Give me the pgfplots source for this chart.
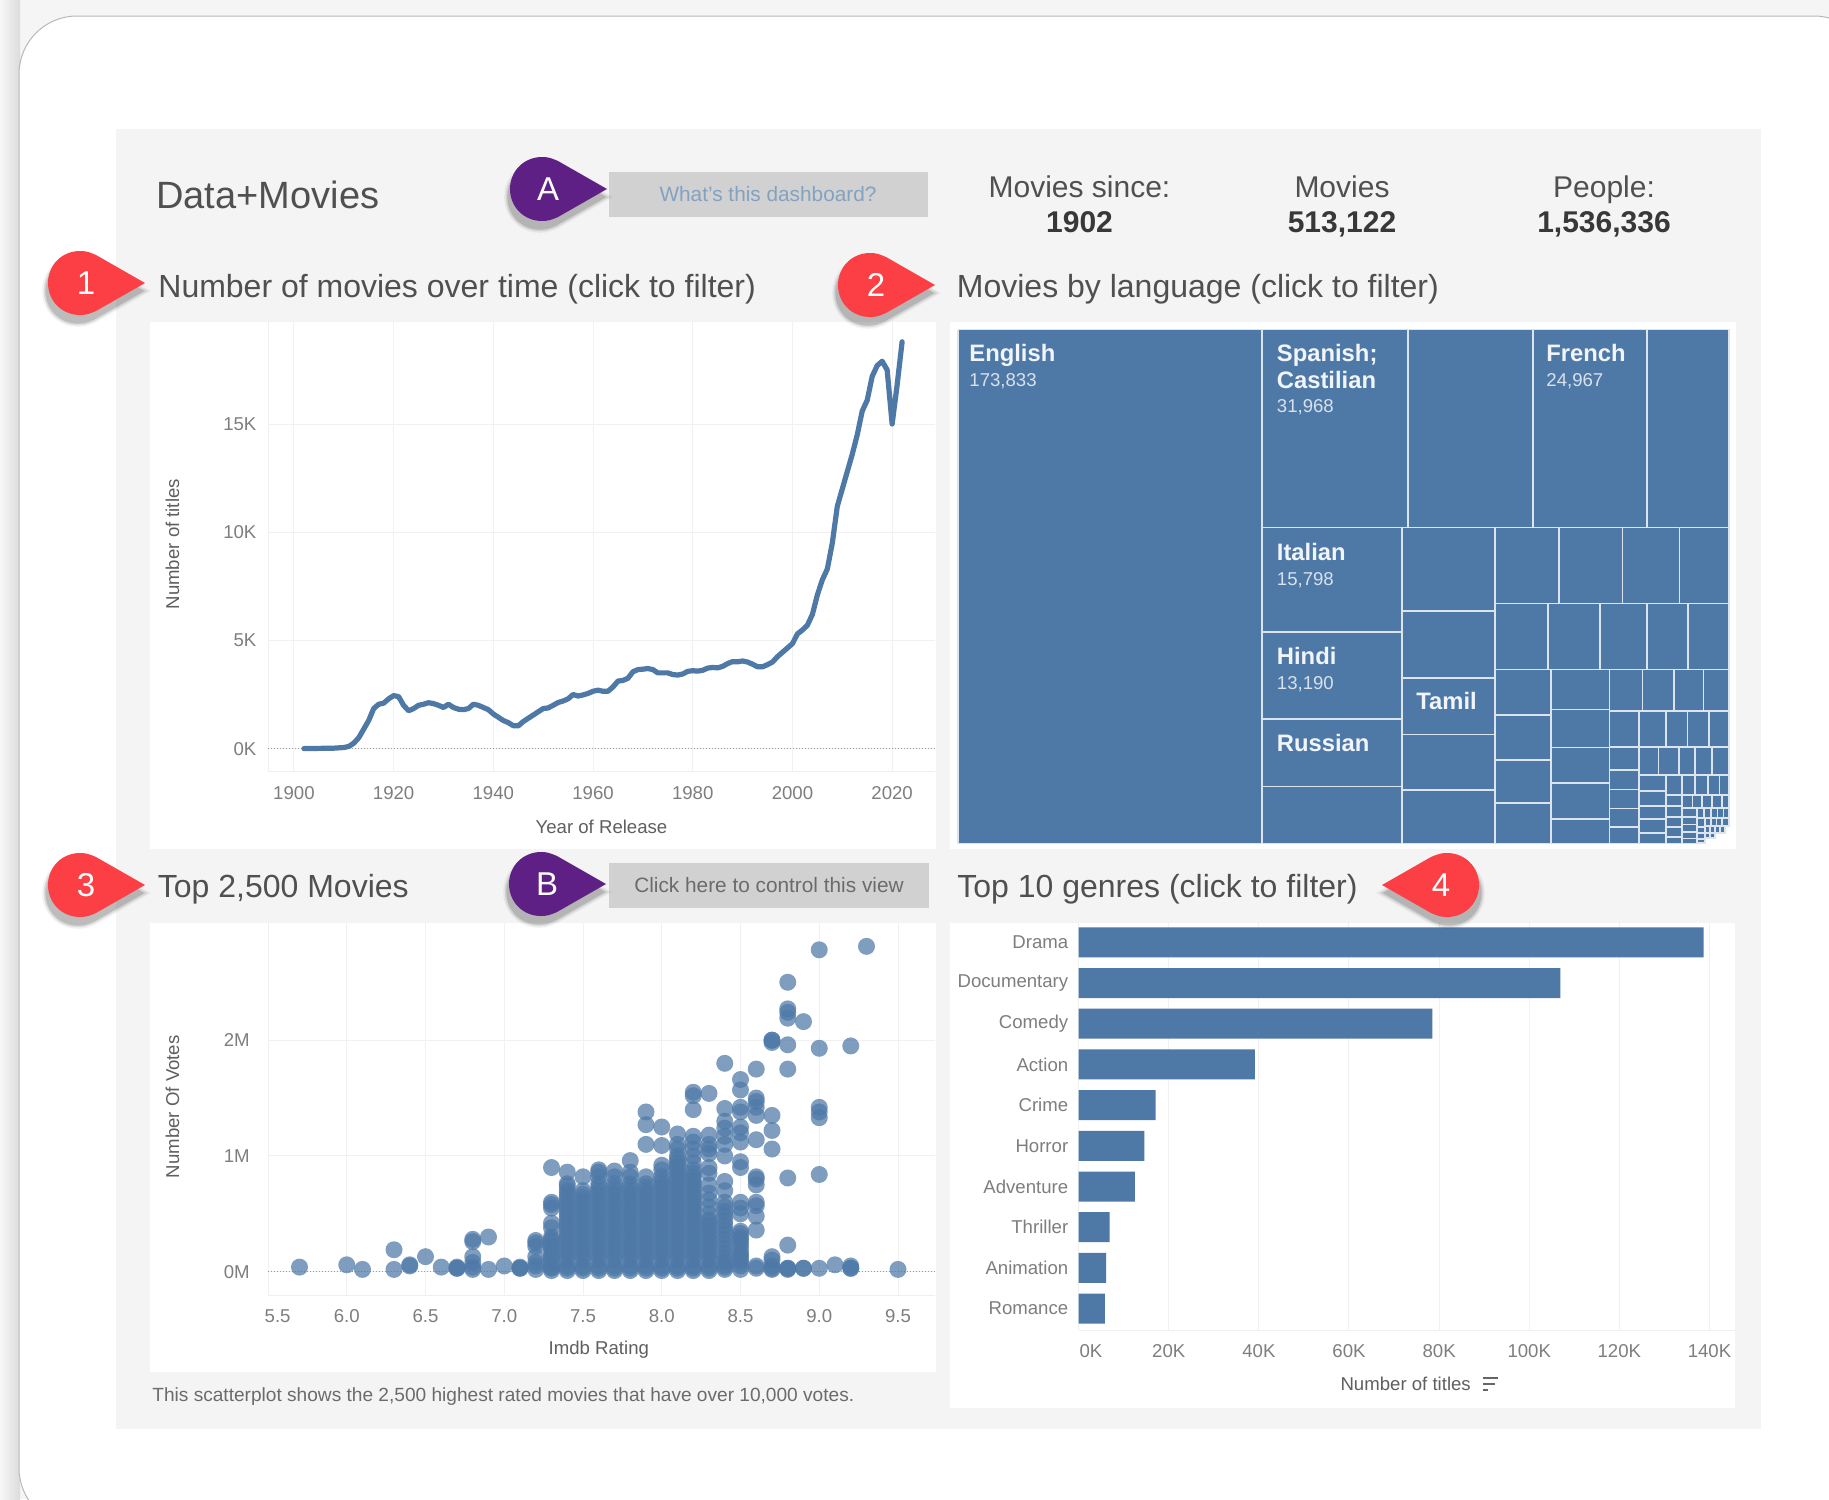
\documentclass[border=0pt]{standalone}
\usepackage{pgfplots}
\pgfplotsset{compat=1.18}
\usepackage{fontspec}
\setmainfont{Liberation Sans}
\definecolor{tblue}{HTML}{4E79A7}
\definecolor{gridc}{HTML}{F1F1F1}
\definecolor{axisc}{HTML}{F0F0F0}
\definecolor{tickc}{HTML}{7E7E7E}
\definecolor{labc}{HTML}{5F5F5F}
\definecolor{headc}{HTML}{505050}
\definecolor{panelc}{HTML}{F4F4F4}
\definecolor{redc}{HTML}{FB3F44}
\definecolor{purpc}{HTML}{5F2085}
\newcommand\fs[1]{\fontsize{#1}{#1}\selectfont}
\newcommand\tm[4]{\addplot[fill=tblue,draw=white!80!tblue,line width=0.8pt,forget plot] coordinates {(#1,#2)(#3,#2)(#3,#4)(#1,#4)(#1,#2)};}
% teardrop around the origin, in px
\newcommand\drop{(65,0) -- (16,-28) .. controls (9,-31) and (6,-32) .. (0,-32) .. controls (-18,-32) and (-32,-18) .. (-32,0) .. controls (-32,18) and (-18,32) .. (0,32) .. controls (6,32) and (9,31) .. (16,28) -- cycle}
\newcommand\callout[5]{% cx cy xscale colour text
  \begin{scope}[shift={(#1,#2)},xscale=#3]
    \begin{scope}[shift={(-2,8)},scale=1.12]\fill[black,opacity=.05] \drop;\end{scope}
    \begin{scope}[shift={(-2,8)},scale=1.07]\fill[black,opacity=.09] \drop;\end{scope}
    \begin{scope}[shift={(-2,8)},scale=1.02]\fill[black,opacity=.14] \drop;\end{scope}
    \fill[#4] \drop;
  \end{scope}
  \node[text=white,inner sep=0,font=\fs{16.5}] at (#1+#3*6,#2) {#5};}
\pgfplotsset{
  dash/.style={scale only axis,anchor=north west,clip=true,
    axis lines*=left,axis line style={draw=axisc,line width=.5pt,-},
    scaled x ticks=false,scaled y ticks=false,
    major tick length=0pt,minor tick length=0pt,
    tick label style={font=\fs{9.3},text=tickc,inner sep=0pt},
    xticklabel style={anchor=center},
    yticklabel style={anchor=east},
    label style={font=\fs{9.3},text=labc,inner sep=0pt},
    grid=major,grid style={draw=gridc,line width=.5pt},
  }
}
\pgfplotstableread{
year n
1902 0
1905 10
1908 20
1910 50
1911 100
1912 250
1913 500
1914 900
1915 1300
1916 1850
1917 2050
1918 2100
1919 2300
1920 2450
1921 2400
1922 2000
1923 1750
1924 1850
1925 2000
1926 2050
1927 2120
1928 2080
1929 2000
1930 1900
1931 2050
1932 1900
1933 1820
1934 1800
1935 1850
1936 2050
1937 2000
1938 1900
1939 1800
1940 1600
1941 1450
1942 1300
1943 1200
1944 1060
1945 1050
1946 1250
1947 1400
1948 1550
1949 1700
1950 1850
1951 1880
1952 2000
1953 2130
1954 2200
1955 2300
1956 2500
1957 2430
1958 2480
1959 2550
1960 2650
1961 2700
1962 2650
1963 2650
1964 2850
1965 3120
1966 3150
1967 3250
1968 3550
1969 3650
1970 3670
1971 3700
1972 3650
1973 3500
1974 3500
1975 3500
1976 3420
1977 3400
1978 3450
1979 3570
1980 3600
1981 3580
1982 3620
1983 3720
1984 3750
1985 3730
1986 3800
1987 3930
1988 4020
1989 4010
1990 4050
1991 4000
1992 3900
1993 3780
1994 3780
1995 3880
1996 4000
1997 4250
1998 4450
1999 4650
2000 4850
2001 5300
2002 5480
2003 5700
2004 6200
2005 7100
2006 7800
2007 8300
2008 9500
2009 11200
2010 12000
2011 12800
2012 13600
2013 14500
2014 15600
2015 16100
2016 17200
2017 17700
2018 17900
2019 17500
2020 15000
2021 16800
2022 18800
}\yeartable
\begin{document}
\begin{tikzpicture}
\useasboundingbox (0pt,0pt) rectangle (914.5pt,-749.5pt);
\clip (0pt,0pt) rectangle (914.5pt,-749.5pt);
\begin{scope}[x=.5pt,y=-.5pt]
  \fill[white!96!black] (0,0) rectangle (1829,1499);
  \shade[left color=white!97!black,right color=white!86!black] (0,0) rectangle (20,1499);
  \filldraw[fill=white,draw=white!72!black,line width=.5pt,rounded corners=29pt] (19,16) rectangle (1872,1526);
  \fill[panelc] (116,128.5) rectangle (1761,1429);
  \fill[white] (150,322) rectangle (936,849);
  \fill[white] (950,322) rectangle (1736,849);
  \fill[white] (150,923.3) rectangle (936,1371.7);
  \fill[white] (950,923.3) rectangle (1735,1408.3);
  \fill[white!82!black] (609,171.5) rectangle (928,217);
  \fill[white!82!black] (609,863) rectangle (928.5,907.5);
\end{scope}

% 1 line chart
\begin{axis}[dash,at={(134pt,-161.15pt)},width=333.5pt,height=224.55pt,
  xmin=1894.8,xmax=2028.6,ymin=-1054,ymax=19700,
  xtick={1900,1920,1940,1960,1980,2000,2020},
  xticklabels={1900,1920,1940,1960,1980,2000,2020},
  ytick={0,5000,10000,15000},yticklabels={0K,5K,10K,15K},
  xticklabel style={yshift=-10.8pt},
  yticklabel style={xshift=-5.6pt},
  xlabel={Year of Release},ylabel={Number of titles},
  x label style={at={(rel axis cs:0.5,0)},anchor=center,yshift=-27.5pt},
  y label style={at={(rel axis cs:0,0.506)},anchor=center,rotate=0,yshift=47.8pt},
]
\addplot[draw=black!40,densely dotted,line width=.5pt,forget plot] coordinates {(1894.8,0)(2028.6,0)};
\addplot[draw=tblue,line width=2.6pt,line join=round,line cap=round] table[x=year,y=n] {\yeartable};
\end{axis}

% 2 treemap
\begin{axis}[scale only axis,anchor=north west,at={(475pt,-161.5pt)},width=393pt,height=263pt,
  xmin=950,xmax=1736,ymin=323,ymax=849,y dir=reverse,hide axis,clip=false]
\tm{958}{329.5}{1262}{843.3}
\tm{1262}{329.5}{1407.7}{527.6}\tm{1407.7}{329.5}{1532.7}{527.6}\tm{1532.7}{329.5}{1647}{527.6}\tm{1647}{329.5}{1729}{527.6}
\tm{1262}{527.6}{1402}{631.7}\tm{1262}{631.7}{1402}{718.9}\tm{1262}{718.9}{1402}{786.5}\tm{1262}{786.5}{1402}{843.3}
\tm{1402}{527.6}{1495}{610.7}\tm{1402}{610.7}{1495}{677.7}\tm{1402}{677.7}{1495}{734.5}\tm{1402}{734.5}{1495}{790}\tm{1402}{790}{1495}{843.3}
\tm{1495}{527.6}{1559.2}{603.3}\tm{1559.2}{527.6}{1622.4}{603.3}\tm{1622.4}{527.6}{1679.6}{603.3}\tm{1679.6}{527.6}{1729}{603.3}
\tm{1495}{603.3}{1548}{669.3}\tm{1548}{603.3}{1600}{669.3}\tm{1600}{603.3}{1647}{669.3}\tm{1647}{603.3}{1687.8}{669.3}\tm{1687.8}{603.3}{1729}{669.3}
\tm{1495}{669.3}{1551}{715}\tm{1495}{715}{1551}{760}\tm{1495}{760}{1551}{802.7}\tm{1495}{802.7}{1551}{843.3}
\tm{1551}{669.3}{1609.5}{709.3}\tm{1551}{709.3}{1609.5}{747.3}\tm{1551}{747.3}{1609.5}{782.7}\tm{1551}{782.7}{1609.5}{819}\tm{1551}{819}{1609.5}{843.3}
\tm{1609.5}{669.3}{1642.3}{710.7}\tm{1642.3}{669.3}{1674}{710.7}\tm{1674}{669.3}{1703.3}{710.7}\tm{1703.3}{669.3}{1729}{710.7}
\tm{1609.5}{710.7}{1639}{746.7}\tm{1639}{710.7}{1666}{746.7}\tm{1666}{710.7}{1687.3}{746.7}\tm{1687.3}{710.7}{1709}{746.7}\tm{1709}{710.7}{1729}{746.7}
\tm{1609.5}{746.7}{1639}{770}\tm{1609.5}{770}{1639}{789.3}\tm{1609.5}{789.3}{1639}{808.3}\tm{1609.5}{808.3}{1639}{826.7}\tm{1609.5}{826.7}{1639}{843.3}
\tm{1639}{746.7}{1658.3}{775}\tm{1658.3}{746.7}{1679}{775}\tm{1679}{746.7}{1695}{775}\tm{1695}{746.7}{1711.7}{775}\tm{1711.7}{746.7}{1729}{775}
\tm{1639}{775}{1666}{791}\tm{1639}{791}{1666}{805.7}\tm{1639}{805.7}{1666}{819}\tm{1639}{819}{1666}{833}\tm{1639}{833}{1666}{843.3}
\tm{1666}{775}{1681.7}{795}\tm{1681.7}{775}{1695}{795}\tm{1695}{775}{1707.7}{795}\tm{1707.7}{775}{1719.3}{795}\tm{1719.3}{775}{1729}{795}
\tm{1666}{795}{1682}{805.7}\tm{1666}{805.7}{1682}{816.7}\tm{1666}{816.7}{1682}{826.7}\tm{1666}{826.7}{1682}{836.7}\tm{1666}{836.7}{1682}{843.3}
\tm{1682}{795}{1692.3}{808}\tm{1692.3}{795}{1702}{808}\tm{1702}{795}{1711.7}{808}\tm{1711.7}{795}{1721.7}{808}\tm{1721.7}{795}{1729}{808}
\tm{1682}{808}{1697}{816.7}\tm{1682}{816.7}{1697}{824.3}\tm{1682}{824.3}{1697}{831.7}\tm{1682}{831.7}{1697}{838.3}\tm{1682}{838.3}{1697}{843.3}
\tm{1697}{808}{1704}{818}\tm{1704}{808}{1711}{818}\tm{1711}{808}{1717.3}{818}\tm{1717.3}{808}{1723.3}{818}\tm{1723.3}{808}{1729}{818}
\tm{1697}{818}{1705}{826.7}\tm{1697}{826.7}{1705}{833}\tm{1697}{833}{1705}{839}\tm{1697}{839}{1705}{843}
\tm{1705}{818}{1711}{826}\tm{1711}{818}{1716.5}{826}\tm{1716.5}{818}{1722}{826}\tm{1722}{818}{1729}{826}
\tm{1705}{826}{1710}{833}\tm{1710}{826}{1715}{833}\tm{1715}{826}{1720}{833}\tm{1720}{826}{1725}{833}
\tm{1705}{833}{1710}{838}\tm{1710}{833}{1715}{838}
\end{axis}

% 3 scatter
\begin{axis}[dash,at={(134pt,-461.65pt)},width=333.5pt,height=185.85pt,
  xmin=5.5,xmax=9.735,ymin=-0.201,ymax=3.009,
  xtick={5.5,6,6.5,7,7.5,8,8.5,9,9.5},
  xticklabels={\hspace*{9.6pt}5.5,6.0,6.5,7.0,7.5,8.0,8.5,9.0,9.5},
  ytick={0,1,2},yticklabels={0M,1M,2M},
  xticklabel style={yshift=-10.35pt},
  yticklabel style={xshift=-9pt},
  xlabel={Imdb Rating},ylabel={Number Of Votes},
  x label style={at={(rel axis cs:0.496,0)},anchor=center,yshift=-27.15pt},
  y label style={at={(rel axis cs:0,0.5066)},anchor=center,rotate=0,yshift=47.8pt},
]
\addplot[draw=black!40,densely dotted,line width=.5pt,forget plot] coordinates {(5.5,0)(9.735,0)};
\addplot[only marks,mark=*,mark size=4.25pt,mark options={draw=tblue,draw opacity=0,line width=0pt,fill=tblue,fill opacity=.72}] coordinates {
(5.7,.04)(6,.06)(6.1,.02)(6.3,.02)(6.3,.19)(6.4,.05)(6.4,.06)(6.5,.13)(6.6,.04)(6.7,.03)(6.7,.03)(6.7,.04)
(6.8,.02)(6.8,.04)(6.8,.08)(6.8,.13)(6.8,.26)(6.8,.28)(6.9,.02)(6.9,.3)(7,.05)(7.1,.03)(7.1,.03)(7.1,.04)
(7.2,.02)(7.2,.05)(7.2,.08)(7.2,.13)(7.2,.22)(7.2,.25)(7.2,.27)
(7.3,.01)(7.3,.04)(7.3,.07)(7.3,.1)(7.3,.14)(7.3,.18)(7.3,.22)(7.3,.26)(7.3,.3)(7.3,.38)(7.3,.42)(7.3,.55)(7.3,.58)(7.3,.6)(7.3,.9)
(7.4,.01)(7.4,.05)(7.4,.1)(7.4,.16)(7.4,.22)(7.4,.28)(7.4,.34)(7.4,.4)(7.4,.46)(7.4,.52)(7.4,.58)(7.4,.64)(7.4,.7)(7.4,.74)(7.4,.76)(7.4,.86)
(7.5,.01)(7.5,.05)(7.5,.1)(7.5,.16)(7.5,.22)(7.5,.28)(7.5,.34)(7.5,.4)(7.5,.46)(7.5,.52)(7.5,.58)(7.5,.64)(7.5,.7)(7.5,.82)
(7.6,.01)(7.6,.05)(7.6,.1)(7.6,.16)(7.6,.22)(7.6,.28)(7.6,.34)(7.6,.4)(7.6,.46)(7.6,.52)(7.6,.58)(7.6,.64)(7.6,.7)(7.6,.76)(7.6,.82)(7.6,.86)(7.6,.88)
(7.7,.01)(7.7,.05)(7.7,.1)(7.7,.16)(7.7,.22)(7.7,.28)(7.7,.34)(7.7,.4)(7.7,.46)(7.7,.52)(7.7,.58)(7.7,.64)(7.7,.7)(7.7,.76)(7.7,.82)(7.7,.87)
(7.8,.01)(7.8,.05)(7.8,.1)(7.8,.16)(7.8,.22)(7.8,.28)(7.8,.34)(7.8,.4)(7.8,.46)(7.8,.52)(7.8,.58)(7.8,.64)(7.8,.7)(7.8,.76)(7.8,.82)(7.8,.86)(7.8,.96)
(7.9,.01)(7.9,.05)(7.9,.1)(7.9,.16)(7.9,.22)(7.9,.28)(7.9,.34)(7.9,.4)(7.9,.46)(7.9,.52)(7.9,.58)(7.9,.64)(7.9,.7)(7.9,.76)(7.9,.82)(7.9,1.1)(7.9,1.27)(7.9,1.38)
(8,.01)(8,.05)(8,.1)(8,.16)(8,.22)(8,.28)(8,.34)(8,.4)(8,.46)(8,.52)(8,.58)(8,.64)(8,.7)(8,.76)(8,.82)(8,.88)(8,.92)(8,1.09)(8,1.25)
(8.1,.01)(8.1,.05)(8.1,.1)(8.1,.16)(8.1,.22)(8.1,.28)(8.1,.34)(8.1,.4)(8.1,.46)(8.1,.52)(8.1,.58)(8.1,.64)(8.1,.7)(8.1,.76)(8.1,.82)(8.1,.88)(8.1,.94)(8.1,1)(8.1,1.06)(8.1,1.1)(8.1,1.19)
(8.2,.01)(8.2,.05)(8.2,.1)(8.2,.16)(8.2,.22)(8.2,.28)(8.2,.34)(8.2,.4)(8.2,.46)(8.2,.52)(8.2,.58)(8.2,.64)(8.2,.7)(8.2,.76)(8.2,.82)(8.2,.88)(8.2,.94)(8.2,1)(8.2,1.06)(8.2,1.12)(8.2,1.17)(8.2,1.4)(8.2,1.52)(8.2,1.55)
(8.3,.01)(8.3,.05)(8.3,.1)(8.3,.16)(8.3,.22)(8.3,.28)(8.3,.34)(8.3,.4)(8.3,.45)(8.3,.5)(8.3,.56)(8.3,.62)(8.3,.68)(8.3,.75)(8.3,.85)(8.3,.9)(8.3,1.02)(8.3,1.06)(8.3,1.1)(8.3,1.18)(8.3,1.54)
(8.4,.02)(8.4,.06)(8.4,.12)(8.4,.2)(8.4,.28)(8.4,.36)(8.4,.44)(8.4,.52)(8.4,.6)(8.4,.7)(8.4,.78)(8.4,1)(8.4,1.1)(8.4,1.17)(8.4,1.24)(8.4,1.3)(8.4,1.41)(8.4,1.8)
(8.5,.02)(8.5,.05)(8.5,.1)(8.5,.15)(8.5,.25)(8.5,.3)(8.5,.35)(8.5,.5)(8.5,.55)(8.5,.6)(8.5,.9)(8.5,.95)(8.5,1.12)(8.5,1.2)(8.5,1.25)(8.5,1.38)(8.5,1.42)(8.5,1.57)(8.5,1.66)
(8.6,.03)(8.6,.05)(8.6,.36)(8.6,.48)(8.6,.57)(8.6,.6)(8.6,.75)(8.6,.8)(8.6,.82)(8.6,1.14)(8.6,1.35)(8.6,1.42)(8.6,1.47)(8.6,1.5)(8.6,1.75)
(8.7,.02)(8.7,.03)(8.7,.05)(8.7,.1)(8.7,.13)(8.7,1.06)(8.7,1.22)(8.7,1.35)(8.7,1.98)(8.7,2)(8.7,2)
(8.8,.02)(8.8,.03)(8.8,.03)(8.8,.23)(8.8,.81)(8.8,1.75)(8.8,1.96)(8.8,2.19)(8.8,2.24)(8.8,2.27)(8.8,2.5)
(8.9,.03)(8.9,.03)(8.9,2.16)(9,.03)(9,.84)(9,1.33)(9,1.38)(9,1.42)(9,1.93)(9,2.78)(9.1,.06)
(9.2,.03)(9.2,.03)(9.2,.05)(9.2,1.95)(9.3,2.81)(9.5,.02)
(7.3,.03)(7.3,.12)(7.3,.2)(7.3,.28)
(7.4,.03)(7.4,.13)(7.4,.19)(7.4,.25)(7.4,.31)(7.4,.37)(7.4,.43)(7.4,.49)(7.4,.55)(7.4,.61)(7.4,.67)
(7.5,.03)(7.5,.13)(7.5,.19)(7.5,.25)(7.5,.31)(7.5,.37)(7.5,.43)(7.5,.49)(7.5,.55)(7.5,.61)(7.5,.67)
(7.6,.03)(7.6,.13)(7.6,.19)(7.6,.25)(7.6,.31)(7.6,.37)(7.6,.43)(7.6,.49)(7.6,.55)(7.6,.61)(7.6,.67)(7.6,.73)
(7.7,.03)(7.7,.13)(7.7,.19)(7.7,.25)(7.7,.31)(7.7,.37)(7.7,.43)(7.7,.49)(7.7,.55)(7.7,.61)(7.7,.67)(7.7,.73)
(7.8,.03)(7.8,.13)(7.8,.19)(7.8,.25)(7.8,.31)(7.8,.37)(7.8,.43)(7.8,.49)(7.8,.55)(7.8,.61)(7.8,.67)(7.8,.73)
(7.9,.03)(7.9,.13)(7.9,.19)(7.9,.25)(7.9,.31)(7.9,.37)(7.9,.43)(7.9,.49)(7.9,.55)(7.9,.61)(7.9,.67)(7.9,.73)
(8,.03)(8,.13)(8,.19)(8,.25)(8,.31)(8,.37)(8,.43)(8,.49)(8,.55)(8,.61)(8,.67)(8,.73)(8,.79)
(8.1,.03)(8.1,.13)(8.1,.19)(8.1,.25)(8.1,.31)(8.1,.37)(8.1,.43)(8.1,.49)(8.1,.55)(8.1,.61)(8.1,.67)(8.1,.73)(8.1,.79)(8.1,.85)(8.1,.91)(8.1,.97)
(8.2,.03)(8.2,.13)(8.2,.19)(8.2,.25)(8.2,.31)(8.2,.37)(8.2,.43)(8.2,.49)(8.2,.55)(8.2,.61)(8.2,.67)(8.2,.73)(8.2,.79)(8.2,.85)
(8.3,.03)(8.3,.13)(8.3,.19)(8.3,.25)(8.3,.31)(8.3,.37)(8.3,.43)
(8.4,.04)(8.4,.09)(8.4,.16)(8.4,.24)(8.4,.32)(8.4,.4)(8.4,.48)(8.4,.56)
(8.5,.08)(8.5,.13)(8.5,.18)(8.5,.22)(8.5,.28)(8.5,.33)
};
\end{axis}

% 4 bars
\begin{axis}[dash,at={(539.3pt,-461.65pt)},width=328.05pt,height=203.35pt,
  xmin=0,xmax=145.6,ymin=-0.467,ymax=9.526,y dir=reverse,
  xbar,bar width=15pt,bar shift=0pt,
  xtick={0,20,40,60,80,100,120,140},
  xticklabels={\hspace*{12.4pt}0K,20K,40K,60K,80K,100K,120K,140K},
  ytick={0,...,9},
  yticklabels={Drama,Documentary,Comedy,Action,Crime,Horror,Adventure,Thriller,Animation,Romance},
  ymajorgrids=false,
  xticklabel style={yshift=-10.35pt},
  yticklabel style={xshift=-5pt},
  xlabel={Number of titles},
  x label style={at={(rel axis cs:0.4985,0)},anchor=center,yshift=-27pt},
]
\addplot[fill=tblue,draw=none] coordinates {(138.7,0)(106.9,1)(78.5,2)(39.1,3)(17.1,4)(14.6,5)(12.5,6)(6.9,7)(6.1,8)(5.8,9)};
\end{axis}

\begin{scope}[x=.5pt,y=-.5pt]
  \tikzset{tm1/.style={anchor=base west,inner sep=0,text=white!92!tblue,font=\fs{11.9}\bfseries},
           tm2/.style={anchor=base west,inner sep=0,text=white!78!tblue,font=\fs{9.3}},
           head/.style={anchor=base west,inner sep=0,text=headc,font=\fs{16}},
           big/.style={anchor=base,inner sep=0,text=headc,font=\fs{15}},
           bigb/.style={anchor=base,inner sep=0,text=black!78,font=\fs{15}\bfseries}}
  \node[tm1] at (969,361) {English};   \node[tm2] at (969,386) {173,833};
  \node[tm1] at (1276.5,361) {Spanish;}; \node[tm1] at (1276.5,388) {Castilian}; \node[tm2] at (1276.5,412.5) {31,968};
  \node[tm1] at (1546,361) {French};   \node[tm2] at (1546,386) {24,967};
  \node[tm1] at (1276.5,560) {Italian}; \node[tm2] at (1276.5,585.5) {15,798};
  \node[tm1] at (1276.5,664) {Hindi};  \node[tm2] at (1276.5,689) {13,190};
  \node[tm1] at (1416,709) {Tamil};
  \node[tm1] at (1276.5,751) {Russian};

  \node[anchor=base west,inner sep=0,text=headc,font=\fs{19}] at (156,208) {Data+Movies};
  \node[head] at (158,297) {Number of movies over time (click to filter)};
  \node[head] at (956.5,297) {Movies by language (click to filter)};
  \node[head] at (157.5,897) {Top 2,500 Movies};
  \node[head] at (957,897) {Top 10 genres (click to filter)};

  \node[big] at (1079.5,197) {Movies since:}; \node[bigb] at (1079.5,232) {1902};
  \node[big] at (1342,197) {Movies};          \node[bigb] at (1342,232) {513,122};
  \node[big] at (1604,197) {People:};         \node[bigb] at (1604,232) {1,536,336};

  \node[inner sep=0,text=tblue!70!white,font=\fs{10.4}] at (768,194) {What's this dashboard?};
  \node[inner sep=0,text=black!58,font=\fs{10.4}] at (769,885) {Click here to control this view};
  \node[anchor=west,inner sep=0,text=black!58,font=\fs{9.55}] at (152,1397) {This scatterplot shows the 2,500 highest rated movies that have over 10,000 votes.};

  % sort icon
  \draw[black!60,line width=1pt] (1483,1378) -- (1498,1378) (1483,1384) -- (1495,1384) (1483,1390) -- (1488,1390);

  \callout{80}{283}{1}{redc}{1}
  \callout{870}{285}{1}{redc}{2}
  \callout{542}{189}{1}{purpc}{A}
  \callout{80}{885}{1}{redc}{3}
  \callout{541}{884}{1}{purpc}{B}
  \callout{1447}{885}{-1}{redc}{4}
\end{scope}
\end{tikzpicture}
\end{document}
